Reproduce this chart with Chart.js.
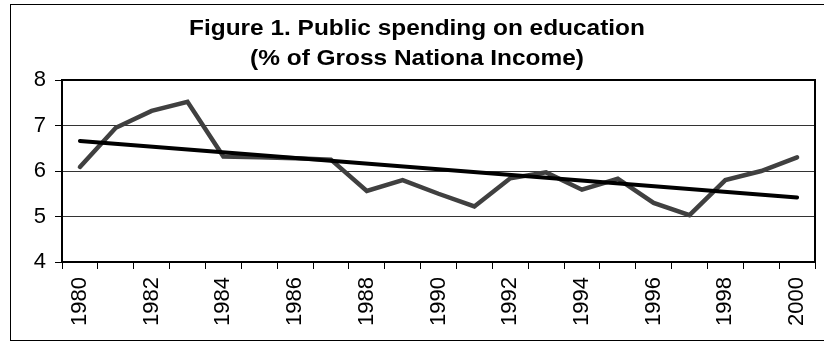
<!DOCTYPE html>
<html>
<head>
<meta charset="utf-8">
<script src="https://cdn.jsdelivr.net/npm/chart.js@4"></script>
<style>
  body { margin: 0; background: #fff; }
</style>
</head>
<body>
<canvas id="myChart" width="824" height="343"></canvas>
<script>
// data
const years = ["1980", "1981", "1982", "1983", "1984", "1985", "1986", "1987", "1988", "1989", "1990",
  "1991", "1992", "1993", "1994", "1995", "1996", "1997", "1998", "1999", "2000"];
const spending = [6.09, 6.95, 7.32, 7.52, 6.32, 6.3, 6.28, 6.25, 5.56, 5.8, 5.5,
  5.22, 5.84, 5.97, 5.59, 5.83, 5.3, 5.03, 5.8, 6.0, 6.3];
// trend line, only the two ends
const trend = [6.66, null, null, null, null, null, null, null, null, null, null,
  null, null, null, null, null, null, null, null, null, 5.42];
const yTicks = [4, 5, 6, 7, 8];
const titleLines = ["Figure 1. Public spending on education", "(% of Gross Nationa Income)"];

const fontFamily = "'Liberation Sans', Arial, sans-serif";

// title is a bit stretched sideways in the original, so draw it by hand
const titlePlugin = {
  id: "wideTitle",
  afterDraw(chart) {
    const ctx = chart.ctx;
    ctx.save();
    ctx.fillStyle = "#000";
    ctx.font = "bold 22px " + fontFamily;
    ctx.textAlign = "center";
    ctx.textBaseline = "alphabetic";
    ctx.translate(417, 0);
    ctx.scale(1.11, 1);
    titleLines.forEach((line, i) => {
      ctx.fillText(line, 0, 35 + i * 29.5);
    });
    ctx.restore();
  },
};

// border round the whole chart and the plot area
const framePlugin = {
  id: "frame",
  afterDraw(chart) {
    const { ctx, chartArea } = chart;
    ctx.save();
    ctx.strokeStyle = "#000";
    ctx.lineWidth = 1;
    ctx.strokeRect(10.5, 4.5, 830, 336);
    ctx.lineWidth = 2;
    ctx.strokeRect(chartArea.left, chartArea.top, chartArea.right - chartArea.left, chartArea.bottom - chartArea.top);
    ctx.restore();
  },
};

const config = {
  type: "line",
  data: {
    labels: years,
    datasets: [
      {
        label: "trend",
        data: trend,
        borderColor: "#000",
        borderWidth: 4,
        spanGaps: true,
        pointRadius: 0,
        borderCapStyle: "round",
        tension: 0,
      },
      {
        label: "spending",
        data: spending,
        borderColor: "#404040",
        borderWidth: 4.5,
        pointRadius: 0,
        borderCapStyle: "round",
        borderJoinStyle: "miter",
        tension: 0,
      },
    ],
  },
  options: {
    responsive: false,
    animation: false,
    layout: {
      padding: { left: 0, right: 9, top: 80, bottom: 0 },
    },
    plugins: {
      legend: { display: false },
      tooltip: { enabled: false },
      title: { display: false },
    },
    scales: {
      x: {
        offset: true,
        grid: {
          offset: true,
          drawOnChartArea: false,
          drawTicks: true,
          tickLength: 7,
          tickColor: "#000",
          tickWidth: 1,
        },
        border: { color: "#000", width: 2 },
        ticks: {
          autoSkip: false,
          minRotation: 90,
          maxRotation: 90,
          padding: 8,
          color: "#000",
          font: { family: fontFamily, size: 22 },
          callback: function (value, index) {
            return index % 2 === 0 ? years[index] : "";
          },
        },
        afterFit: (scale) => {
          scale.height = 81;
          scale.paddingLeft = 0;
          scale.paddingRight = 0;
        },
      },
      y: {
        min: yTicks[0],
        max: yTicks[yTicks.length - 1],
        afterBuildTicks: (scale) => {
          scale.ticks = yTicks.map((v) => ({ value: v }));
        },
        grid: {
          color: "#333",
          lineWidth: 1,
          tickLength: 7,
          tickColor: "#000",
        },
        border: { color: "#000", width: 2 },
        ticks: {
          padding: 9,
          color: "#000",
          font: { family: fontFamily, size: 22 },
        },
        afterFit: (scale) => {
          scale.width = 62;
          scale.paddingTop = 0;
          scale.paddingBottom = 0;
        },
      },
    },
  },
  plugins: [framePlugin, titlePlugin],
};

const myChart = new Chart(document.getElementById("myChart"), config);
</script>
</body>
</html>
